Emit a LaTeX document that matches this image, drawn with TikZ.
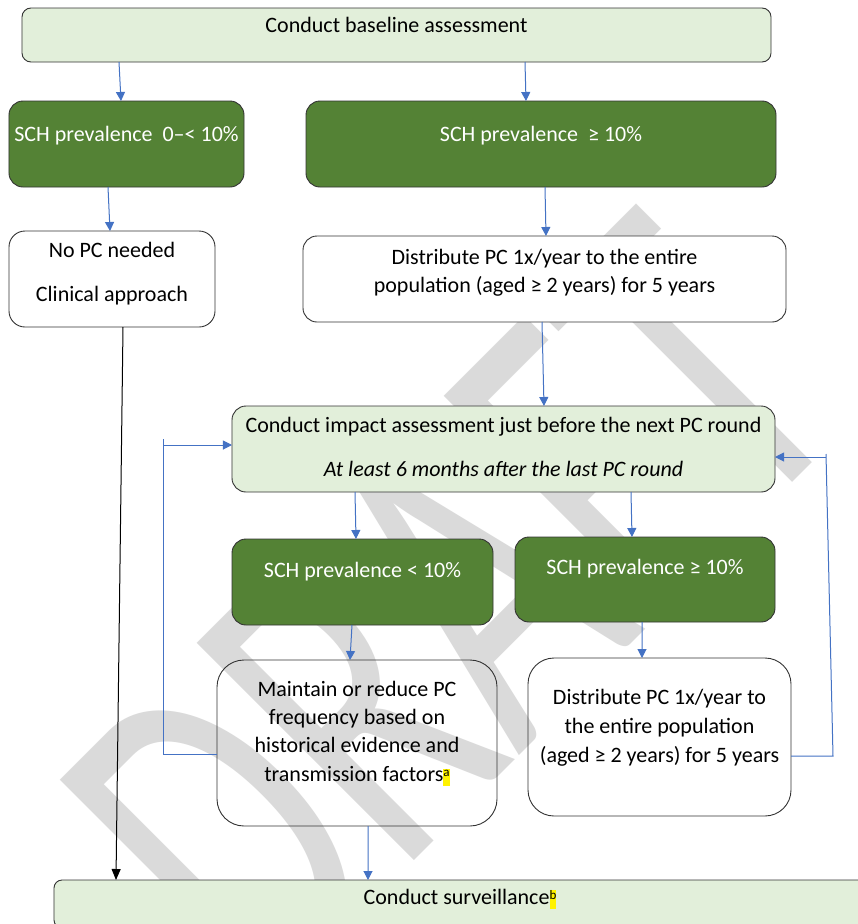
\documentclass[tikz,border=0pt]{standalone}
\usepackage{fontspec}
\setmainfont{Carlito}
\usetikzlibrary{arrows.meta,calc}

\definecolor{darkgreen}{HTML}{548235}
\definecolor{palegreen}{HTML}{E2EFDA}
\definecolor{linkblue}{HTML}{4472C4}
\definecolor{markgray}{HTML}{DADADA}

% small highlighted footnote letter
\newcommand\notemark[1]{{\setlength\fboxsep{0pt}\colorbox{yellow}{\rule[-5bp]{0pt}{17bp}\raisebox{5bp}{\fontsize{13bp}{13bp}\selectfont #1}}}}

\begin{document}
\begin{tikzpicture}[x=1bp,y=-1bp,
  box/.style={draw=black!80, line width=0.9bp, inner sep=0pt, outer sep=0pt},
  darkbox/.style={box, fill=darkgreen, rounded corners=14bp},
  palebox/.style={box, fill=palegreen},
  whitebox/.style={box},
  txt/.style={anchor=base, inner sep=0pt, font=\fontsize{22bp}{28bp}\selectfont},
  wtxt/.style={txt, text=white},
  link/.style={draw=linkblue, line width=1bp},
  arr/.style={link, -{Triangle[length=9bp,width=9bp]}},
  blackarr/.style={draw=black, line width=1bp, -{Triangle[length=11bp,width=9bp]}},
]
\useasboundingbox (0,0) rectangle (858,924);
\fill[white] (0,0) rectangle (858,924);
\clip (0,0) rectangle (858,924);

% watermark
\node[rotate=45, anchor=base west, inner sep=0pt, text=markgray] (mark) at (262,1013)
  {\scalebox{1}[1.53]{\fontsize{313bp}{313bp}\selectfont DRAFT}};

% boxes
\node[palebox, rounded corners=9bp, minimum width=749bp, minimum height=54bp] (base) at (396.5,35) {};
\node[darkbox, minimum width=235bp, minimum height=86bp] (sch1) at (126.5,144) {};
\node[darkbox, minimum width=470bp, minimum height=86bp] (sch2) at (541,144) {};
\node[whitebox, fill=white, rounded corners=16bp, minimum width=206bp, minimum height=96bp] (nopc) at (112,279) {};
\node[whitebox, fill=white, rounded corners=14bp, minimum width=483bp, minimum height=86bp] (dist1) at (544.5,279) {};
\node[palebox, rounded corners=14bp, minimum width=543bp, minimum height=86bp] (impact) at (503.5,449) {};
\node[darkbox, minimum width=261bp, minimum height=86bp] (sch3) at (362.5,582) {};
\node[darkbox, minimum width=260bp, minimum height=85bp] (sch4) at (645,579.5) {};
\node[whitebox, rounded corners=27bp, minimum width=280bp, minimum height=166bp] (maint) at (357,743) {};
\node[whitebox, rounded corners=26bp, minimum width=263bp, minimum height=158bp] (dist2) at (659.5,737) {};
\node[palebox, rounded corners=8bp, minimum width=812bp, minimum height=48bp] (surv) at (460,904) {};

% texts
\node[txt] (baset) at (base.center |- 0,32) {Conduct baseline assessment};
\node[wtxt] (sch1t) at (sch1.center |- 0,141) {SCH prevalence\ \ 0–<\ 10\%};
\node[wtxt] (sch2t) at (sch2.center |- 0,141) {SCH prevalence\ \ ≥ 10\%};
\node[txt] (nopca) at (nopc.center |- 0,257) {No PC needed};
\node[txt] (nopcb) at (nopc.center |- 0,301) {Clinical approach};
\node[txt] (dist1a) at (dist1.center |- 0,264) {Distribute PC 1x/year to the entire};
\node[txt] (dist1b) at (dist1.center |- 0,292) {population (aged ≥ 2 years) for 5 years};
\node[txt] (impacta) at (impact.center |- 0,432) {Conduct impact assessment just before the next PC round};
\node[txt, font=\fontsize{22bp}{28bp}\selectfont\itshape] (impactb) at (impact.center |- 0,476) {At least 6 months after the last PC round};
\node[wtxt] (sch3t) at (sch3.center |- 0,577) {SCH prevalence < 10\%};
\node[wtxt] (sch4t) at (sch4.center |- 0,574) {SCH prevalence ≥ 10\%};
\node[txt] (mainta) at (maint.center |- 0,696) {Maintain or reduce PC};
\node[txt] (maintb) at (maint.center |- 0,724) {frequency based on};
\node[txt] (maintc) at (maint.center |- 0,752) {historical evidence and};
\node[txt] (maintd) at (maint.center |- 0,781) {transmission factors\notemark{a}};
\node[txt] (dist2a) at (dist2.center |- 0,704) {Distribute PC 1x/year to};
\node[txt] (dist2b) at (dist2.center |- 0,733) {the entire population};
\node[txt] (dist2c) at (dist2.center |- 0,762) {(aged ≥ 2 years) for 5 years};
\node[txt] (survt) at (surv.center |- 0,904) {Conduct surveillance\notemark{b}};

% straight connectors
\draw[arr] ($(base.south west)+(97,0)$) -- ($(sch1.north west)+(112,0)$);
\draw[arr] ($(base.south west)+(503,0)$) -- ($(sch2.north west)+(220,0)$);
\draw[arr] ($(sch1.south west)+(99,0)$) -- ($(nopc.north west)+(101,0)$);
\draw[arr] ($(sch2.south west)+(239,0)$) -- ($(dist1.north west)+(243,0)$);
\draw[arr] ($(dist1.south west)+(239,0)$) -- ($(impact.north west)+(312,0)$);
\draw[blackarr] ($(nopc.south west)+(114,0)$) -- ($(surv.north west)+(62,0)$);
\draw[arr] ($(impact.south west)+(123,0)$) -- ($(sch3.north west)+(124,0)$);
\draw[arr] ($(impact.south west)+(399,0)$) -- ($(sch4.north west)+(117,0)$);
\draw[arr] ($(sch3.south west)+(120,0)$) -- ($(maint.north west)+(133,0)$);
\draw[arr] ($(sch4.south west)+(127,0)$) -- ($(dist2.north west)+(114,0)$);
\draw[arr] ($(maint.south west)+(151,0)$) -- ($(surv.north west)+(314,0)$);

% loop back on the left
\coordinate (loopLlow) at (163,754);
\coordinate (loopLtop) at (163,439);
\coordinate (loopLin) at (163,445);
\draw[link] (loopLlow -| maint.west) -- (loopLlow) -- (loopLtop);
\draw[arr] (loopLin) -- (loopLin -| impact.west);

% loop back on the right
\coordinate (loopRlow) at (833,756);
\coordinate (loopRtop) at (826,454);
\coordinate (loopRin) at (826,457);
\draw[link] (dist2.east |- loopRlow) -- (loopRlow) -- (loopRtop);
\draw[arr] (loopRin) -- (loopRin -| impact.east);
\end{tikzpicture}
\end{document}
